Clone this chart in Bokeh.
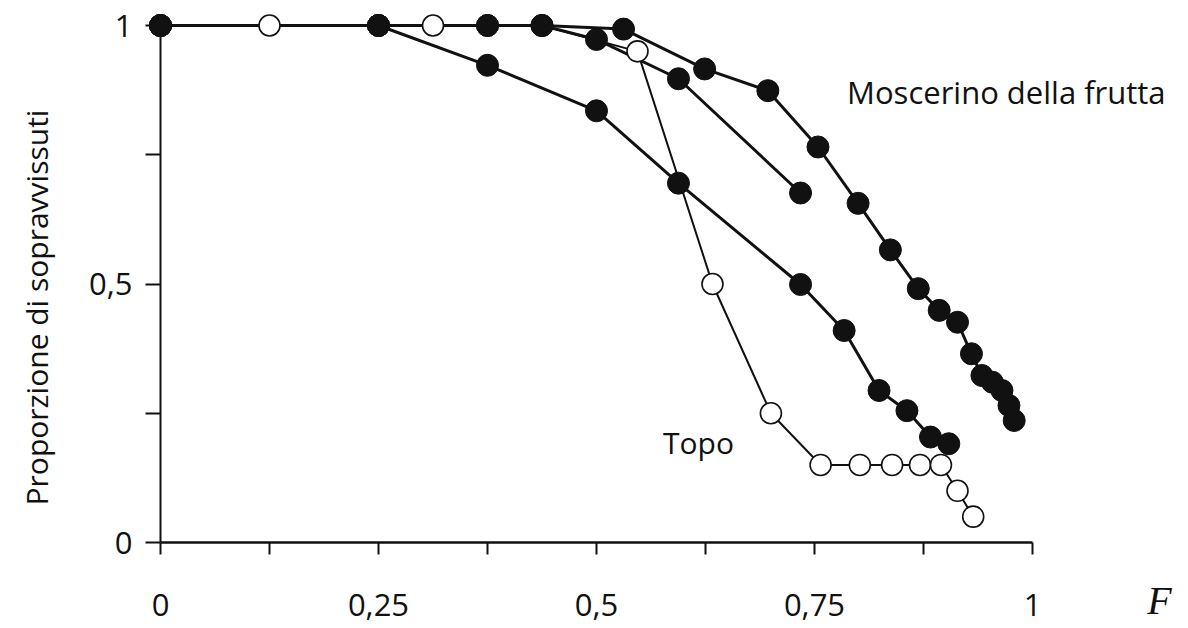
import math
from bokeh.plotting import figure
from bokeh.models import LinearAxis, FixedTicker, Range1d, Label
from bokeh.embed import file_html
from bokeh.resources import INLINE

# ---- data ----
topo_x = [0, 0.125, 0.3125, 0.4375, 0.547, 0.633, 0.700, 0.757, 0.802, 0.839, 0.871, 0.895, 0.914, 0.932]
topo_y = [1, 1, 1, 1, 0.950, 0.500, 0.250, 0.150, 0.150, 0.150, 0.150, 0.150, 0.100, 0.050]

fly_a_x = [0, 0.25, 0.375, 0.4375, 0.531, 0.624, 0.6965, 0.754, 0.800, 0.837, 0.869, 0.893, 0.914, 0.930, 0.942, 0.954, 0.965, 0.973, 0.979]
fly_a_y = [1, 1, 1, 1, 0.993, 0.916, 0.874, 0.765, 0.656, 0.566, 0.491, 0.449, 0.426, 0.365, 0.323, 0.310, 0.294, 0.265, 0.236]

fly_b_x = [0, 0.25, 0.375, 0.4375, 0.500, 0.594, 0.734]
fly_b_y = [1, 1, 1, 1, 0.973, 0.897, 0.676]

fly_c_x = [0, 0.25, 0.375, 0.500, 0.594, 0.734, 0.784, 0.824, 0.856, 0.883, 0.904]
fly_c_y = [1, 1, 0.923, 0.835, 0.695, 0.499, 0.410, 0.294, 0.255, 0.204, 0.191]

x_ticks = [0.0, 0.25, 0.5, 0.75, 1.0]
x_tick_labels = ["0", "0,25", "0,5", "0,75", "1"]
x_minor_ticks = [0.125, 0.375, 0.625, 0.875]
y_ticks = [0.0, 0.5, 1.0]
y_tick_labels = ["0", "0,5", "1"]
y_minor_ticks = [0.25, 0.75]

y_title = "Proporzione di sopravvissuti"
fly_label = "Moscerino della frutta"
topo_label = "Topo"
x_title = "F"

FONT = "Open Sans"
INK = "#111111"

W, H = 1188, 628
p = figure(width=W, height=H, output_backend="svg", toolbar_location=None,
           x_range=Range1d(-160 / 872, (W - 160) / 872),
           y_range=Range1d(-(H - 542) / 517, 1 + 25 / 517),
           x_axis_location=None, y_axis_location=None, min_border=0)
p.xgrid.visible = False
p.ygrid.visible = False
p.outline_line_color = None
p.background_fill_color = "white"

xaxis = LinearAxis(fixed_location=0, bounds=(0, 1),
                   ticker=FixedTicker(ticks=x_ticks, minor_ticks=x_minor_ticks),
                   major_label_overrides={t: l for t, l in zip(x_ticks, x_tick_labels)})
xaxis.axis_line_width = 2.5
xaxis.axis_line_color = INK
xaxis.major_tick_in = 0
xaxis.major_tick_out = 12
xaxis.minor_tick_in = 0
xaxis.minor_tick_out = 12
xaxis.major_tick_line_width = 2
xaxis.minor_tick_line_width = 2
xaxis.major_tick_line_color = INK
xaxis.minor_tick_line_color = INK
xaxis.major_label_text_font = FONT
xaxis.major_label_text_font_size = "31px"
xaxis.major_label_text_color = INK
xaxis.major_label_standoff = 39
p.add_layout(xaxis, "below")

yaxis = LinearAxis(fixed_location=0, bounds=(0, 1),
                   ticker=FixedTicker(ticks=y_ticks, minor_ticks=y_minor_ticks),
                   major_label_overrides={t: l for t, l in zip(y_ticks, y_tick_labels)})
yaxis.axis_line_width = 2
yaxis.axis_line_color = INK
yaxis.major_tick_in = 0
yaxis.major_tick_out = 15
yaxis.minor_tick_in = 0
yaxis.minor_tick_out = 15
yaxis.major_tick_line_width = 2
yaxis.minor_tick_line_width = 2
yaxis.major_tick_line_color = INK
yaxis.minor_tick_line_color = INK
yaxis.major_label_text_font = FONT
yaxis.major_label_text_font_size = "31px"
yaxis.major_label_text_color = INK
yaxis.major_label_standoff = 13
yaxis.major_label_orientation = "horizontal"
p.add_layout(yaxis, "left")

# lines
p.line(fly_a_x, fly_a_y, line_color=INK, line_width=3)
p.line(fly_b_x, fly_b_y, line_color=INK, line_width=3)
p.line(fly_c_x, fly_c_y, line_color=INK, line_width=3)
p.line(topo_x, topo_y, line_color=INK, line_width=2)

# markers
p.scatter(topo_x, topo_y, size=21, fill_color="white", line_color=INK, line_width=1.6)
for xs, ys in [(fly_a_x, fly_a_y), (fly_b_x, fly_b_y), (fly_c_x, fly_c_y)]:
    p.scatter(xs, ys, size=22, fill_color=INK, line_color=INK, line_width=1)

# texts
p.add_layout(Label(x=0.970, y=0.872, text=fly_label, text_font=FONT, text_font_size="31px",
                   text_color=INK, text_align="center", text_baseline="alphabetic"))
p.add_layout(Label(x=0.617, y=0.193, text=topo_label, text_font=FONT, text_font_size="30px",
                   text_color=INK, text_align="center", text_baseline="alphabetic"))
p.add_layout(Label(x=-0.142, y=0.4545, text=y_title, text_font=FONT, text_font_size="30px",
                   text_color=INK, text_align="center", text_baseline="middle", angle=math.pi / 2))
p.add_layout(Label(x=1.1456, y=-0.113, text=x_title, text_font="Liberation Serif",
                   text_font_style="italic", text_font_size="40px",
                   text_color=INK, text_align="center", text_baseline="alphabetic"))

open("out.html", "w").write(file_html(p, INLINE))
